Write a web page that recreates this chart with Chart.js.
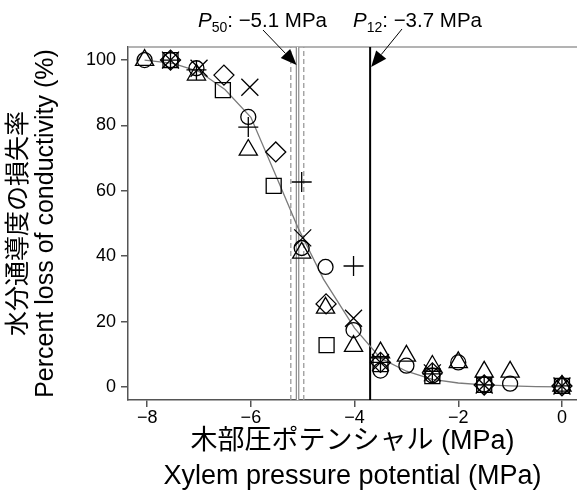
<!DOCTYPE html>
<html>
<head>
<meta charset="utf-8">
<script src="https://cdn.jsdelivr.net/npm/chart.js@4.4.1/dist/chart.umd.min.js"></script>
<style>
    html, body { margin: 0; padding: 0; background: #fff; }
    #id_chart { display: block; }
</style>
</head>
<body>
<canvas id="id_chart" width="577" height="495"></canvas>
<script>
// ---- data (x: MPa, y: % loss) ----
var circleX   = [-8.05, -7.55, -7.05, -6.05, -5.02, -4.56, -4.02, -3.5, -3.0, -2.5, -2.0, -1.5, -1.0, 0];
var circleY   = [100, 100, 97.5, 82.6, 42.5, 36.7, 17.4, 5, 6.5, 3.5, 7.5, 0.8, 1, 0.3];
var triangleX = [-8.05, -7.05, -6.05, -5.02, -4.56, -4.02, -3.5, -3.0, -2.5, -2.0, -1.5, -1.0, 0];
var triangleY = [100, 95.5, 72.5, 41, 24.2, 12.5, 10.5, 9.5, 6.4, 7.5, 4.6, 4.6, 0.3];
var plusX     = [-7.55, -7.05, -6.05, -5.02, -4.02, -3.5, -2.5, -1.5, 0];
var plusY     = [100, 97, 79.5, 62.7, 37, 7.5, 4, 0.6, 0.3];
var crossX    = [-7.55, -7.0, -6.02, -5.0, -4.02, -3.5, -2.5, -1.5, 0];
var crossY    = [100, 97.5, 91.7, 45.6, 21, 7.5, 4.3, 0.6, 0.3];
var diamondX  = [-7.55, -6.52, -5.52, -4.55, -3.5, -2.5, -1.5, 0];
var diamondY  = [100, 95.4, 71.9, 25.4, 7.5, 4.3, 0.6, 0.3];
var squareX   = [-7.55, -6.54, -5.56, -4.54, -3.5, -2.5, -1.5, 0];
var squareY   = [100, 90.8, 61.5, 12.8, 7, 3.3, 0.6, 0.3];

// fitted vulnerability curve (grey line)
var curveX = [-8.05, -7.5, -7, -6.5, -6, -5.5, -5.1, -4.6, -4, -3.5, -3, -2.5, -2, -1.5, -1, -0.5, 0];
var curveY = [100, 99, 96.5, 91, 82.5, 64, 49, 33, 18, 8.8, 4.8, 2.3, 1.2, 0.6, 0.3, 0.1, 0];

// P50 with its interval, and P12
var p50Value = -5.1;
var p50Interval = [-5.23, -4.98];
var p12Value = -3.7;

// axes
var xRange = [-8.37, 0.29];
var yRange = [-4, 104];
var xTicks = [-8, -6, -4, -2, 0];
var yTicks = [0, 20, 40, 60, 80, 100];

var xTitle = ['木部圧ポテンシャル (MPa)', 'Xylem pressure potential (MPa)'];
var yTitle = ['水分通導度の損失率', 'Percent loss of conductivity (%)'];

var FONT = "'Liberation Sans', Arial, 'Noto Sans CJK JP', sans-serif";

// ----------------------------------------------------------------------
var _toPoints = function( xs, ys ){
    var out = [];
    for( var i = 0; i < xs.length; i++ ){
        out.push({ x : xs[i], y : ys[i] });
    }
    return out;
};
var _vline = function( x ){
    return [{ x : x, y : yRange[0] }, { x : x, y : yRange[1] }];
};
var _minus = function( v ){
    return v < 0 ? '\u2212' + Math.abs(v) : String(v);
};

var _markerSet = function( label, xs, ys, style, radius ){
    return {
        label : label,
        data : _toPoints( xs, ys ),
        pointStyle : style,
        pointRadius : radius,
        pointBorderWidth : 1.3,
        pointBorderColor : '#000',
        pointBackgroundColor : 'rgba(0,0,0,0)',
        showLine : false
    };
};
var _lineSet = function( label, pts, color, width, dash ){
    return {
        label : label,
        data : pts,
        showLine : true,
        borderColor : color,
        borderWidth : width,
        borderDash : dash || [],
        pointRadius : 0,
        fill : false
    };
};

// label "P_sub: -x.x MPa" with a filled arrow
var _drawLabel = function( ctx, x, y, sub, value ){
    ctx.fillStyle = '#000';
    ctx.textBaseline = 'alphabetic';
    ctx.textAlign = 'left';
    ctx.font = 'italic 20.5px ' + FONT;
    ctx.fillText( 'P', x, y );
    x += ctx.measureText('P').width;
    ctx.font = '14px ' + FONT;
    ctx.fillText( sub, x, y + 5 );
    x += ctx.measureText(sub).width;
    ctx.font = '20.5px ' + FONT;
    ctx.fillText( ': ' + _minus( value.toFixed(1) ) + ' MPa', x, y );
};
var _drawArrow = function( ctx, x0, y0, x1, y1 ){
    var ang = Math.atan2( y1 - y0, x1 - x0 );
    var len = 16, half = 6.5;
    var bx = x1 - Math.cos(ang) * len, by = y1 - Math.sin(ang) * len;
    ctx.strokeStyle = '#000';
    ctx.lineWidth = 1;
    ctx.beginPath();
    ctx.moveTo( x0, y0 );
    ctx.lineTo( bx, by );
    ctx.stroke();
    ctx.beginPath();
    ctx.moveTo( x1, y1 );
    ctx.lineTo( bx - Math.sin(ang) * half, by + Math.cos(ang) * half );
    ctx.lineTo( bx + Math.sin(ang) * half, by - Math.cos(ang) * half );
    ctx.closePath();
    ctx.fillStyle = '#000';
    ctx.fill();
};

var annotationPlugin = {
    id : 'pAnnotations',
    beforeDatasetsDraw : function( chart ){
        var ctx = chart.ctx, area = chart.chartArea;
        ctx.save();
        ctx.strokeStyle = '#9a9a9a';
        ctx.lineWidth = 1.5;
        ctx.beginPath();
        ctx.moveTo( area.left, area.top );
        ctx.lineTo( area.right, area.top );
        ctx.stroke();
        ctx.restore();
    },
    afterDraw : function( chart ){
        var ctx = chart.ctx, area = chart.chartArea, sx = chart.scales.x;
        ctx.save();
        _drawLabel( ctx, 198, 27, '50', p50Value );
        _drawArrow( ctx, 263, 30, sx.getPixelForValue( p50Value ) - 1, area.top + 18 );
        _drawLabel( ctx, 353, 27, '12', p12Value );
        _drawArrow( ctx, 402, 29, sx.getPixelForValue( p12Value ) + 1, area.top + 20 );
        ctx.restore();
    }
};

var datasets = [
    _markerSet( 'circle',   circleX,   circleY,   'circle',    7.5 ),
    _markerSet( 'triangle', triangleX, triangleY, 'triangle', 10.5 ),
    _markerSet( 'plus',     plusX,     plusY,     'cross',    10 ),
    _markerSet( 'cross',    crossX,    crossY,    'crossRot', 12 ),
    _markerSet( 'diamond',  diamondX,  diamondY,  'rectRot',  10 ),
    _markerSet( 'square',   squareX,   squareY,   'rect',     10.6 ),
    _lineSet( 'fit', _toPoints( curveX, curveY ), '#7a7a7a', 1.3 ),
    _lineSet( 'P12', _vline( p12Value ), '#000', 2 ),
    _lineSet( 'P50 inner', _vline( p50Value ), '#ffffff', 1.2 ),
    _lineSet( 'P50', _vline( p50Value ), '#8a8a8a', 3.6 ),
    _lineSet( 'CI low', _vline( p50Interval[0] ), '#9a9a9a', 1.3, [5, 3] ),
    _lineSet( 'CI high', _vline( p50Interval[1] ), '#9a9a9a', 1.3, [5, 3] )
];

// fixed box sizes, no overhang padding
var _fixWidth = function( w ){
    return function( s ){ s.width = w; s.paddingLeft = 0; s.paddingRight = 0; s.paddingTop = 0; s.paddingBottom = 0; };
};
var _fixHeight = function( h ){
    return function( s ){ s.height = h; s.paddingLeft = 0; s.paddingRight = 0; s.paddingTop = 0; s.paddingBottom = 0; };
};

window.onload = function(){
    var ctx = document.getElementById('id_chart').getContext('2d');
    new Chart( ctx, {
        type : 'scatter',
        data : { datasets : datasets },
        plugins : [ annotationPlugin ],
        options : {
            responsive : false,
            devicePixelRatio : 1,
            animation : false,
            events : [],
            layout : { autoPadding : false, padding : { top : 47, right : 0, bottom : 0, left : 0 } },
            plugins : {
                legend : { display : false },
                tooltip : { enabled : false }
            },
            scales : {
                x : {
                    type : 'linear',
                    min : xRange[0],
                    max : xRange[1],
                    afterBuildTicks : function( s ){
                        s.ticks = xTicks.map( function(v){ return { value : v }; } );
                    },
                    afterFit : _fixHeight( 95 ),
                    ticks : {
                        color : '#000',
                        font : { family : FONT, size : 18, lineHeight : 1 },
                        padding : 2,
                        maxRotation : 0,
                        autoSkip : false,
                        callback : function(v){ return _minus(v); }
                    },
                    grid : { drawOnChartArea : false, drawTicks : true, tickLength : 7, color : '#555', lineWidth : 1.5 },
                    border : { display : true, color : '#555', width : 1.5 },
                    title : {
                        display : true,
                        text : xTitle,
                        color : '#000',
                        font : { family : FONT, size : 27, lineHeight : 1.33 },
                        padding : { top : 0, bottom : 0 }
                    }
                },
                y : {
                    type : 'linear',
                    min : yRange[0],
                    max : yRange[1],
                    afterBuildTicks : function( s ){
                        s.ticks = yTicks.map( function(v){ return { value : v }; } );
                    },
                    afterFit : _fixWidth( 128 ),
                    ticks : {
                        color : '#000',
                        font : { family : FONT, size : 18 },
                        padding : 5,
                        callback : function(v){ return _minus(v); }
                    },
                    grid : { drawOnChartArea : false, drawTicks : true, tickLength : 7, color : '#555', lineWidth : 1.5 },
                    border : { display : true, color : '#555', width : 1.5 },
                    title : {
                        display : true,
                        text : yTitle,
                        color : '#000',
                        font : { family : FONT, size : 25, lineHeight : 1.08 },
                        padding : { top : 6, bottom : 0 }
                    }
                }
            }
        }
    });
};
</script>
</body>
</html>
